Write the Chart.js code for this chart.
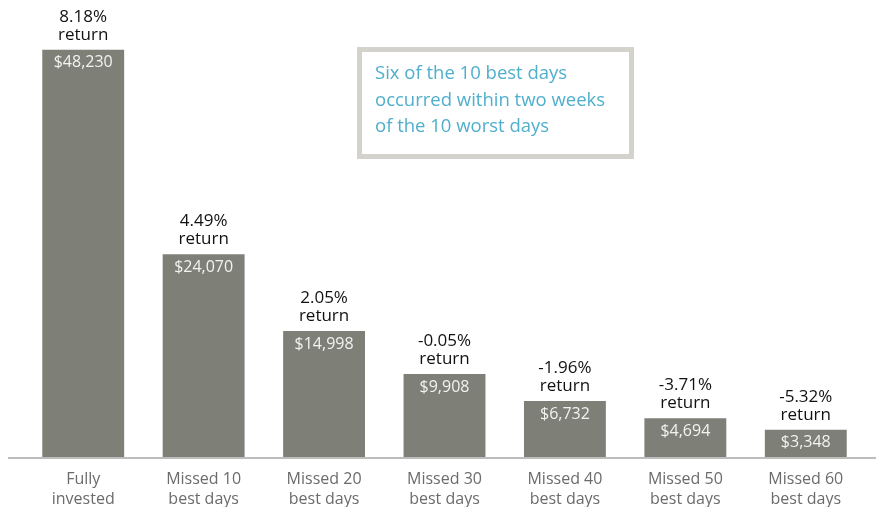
<!DOCTYPE html>
<html>
<head>
<meta charset="utf-8">
<script src="https://cdn.jsdelivr.net/npm/chart.js@4.4.1/dist/chart.umd.min.js"></script>
<style>
  html, body { margin: 0; padding: 0; background: #fff; }
  #wrap { width: 876px; height: 507px; position: relative; }
</style>
</head>
<body>
<div id="wrap"><canvas id="chart"></canvas></div>
<script>
const categories = [
    ['Fully', 'invested'],
    ['Missed 10', 'best days'],
    ['Missed 20', 'best days'],
    ['Missed 30', 'best days'],
    ['Missed 40', 'best days'],
    ['Missed 50', 'best days'],
    ['Missed 60', 'best days']
];
const endingValues = [48230, 24070, 14998, 9908, 6732, 4694, 3348];
const valueLabels = ['$48,230', '$24,070', '$14,998', '$9,908', '$6,732', '$4,694', '$3,348'];
const returnLabels = ['8.18%', '4.49%', '2.05%', '-0.05%', '-1.96%', '-3.71%', '-5.32%'];
const noteLines = ['Six of the 10 best days', 'occurred within two weeks', 'of the 10 worst days'];

const fontFamily = '"Open Sans", "Noto Sans", sans-serif';

// labels on and above the bars, base line, note box
const overlayPlugin = {
    id: 'overlay',
    afterDraw(chart) {
        const ctx = chart.ctx;
        const meta = chart.getDatasetMeta(0);
        const yScale = chart.scales.y;
        const baseY = yScale.getPixelForValue(0);

        ctx.save();
        ctx.strokeStyle = '#bdbdbd';
        ctx.lineWidth = 2;
        ctx.beginPath();
        ctx.moveTo(8, baseY);
        ctx.lineTo(chart.width, baseY);
        ctx.stroke();

        ctx.textAlign = 'center';
        ctx.textBaseline = 'middle';
        meta.data.forEach(function (bar, i) {
            ctx.font = '16px ' + fontFamily;
            ctx.fillStyle = '#f2f2ee';
            ctx.fillText(valueLabels[i], bar.x, bar.y + 13);

            ctx.font = '17px ' + fontFamily;
            ctx.fillStyle = '#111';
            ctx.fillText(returnLabels[i], bar.x, bar.y - 33);
            ctx.fillText('return', bar.x, bar.y - 15);
        });

        // note box
        ctx.strokeStyle = '#d3d2cd';
        ctx.lineWidth = 5;
        ctx.strokeRect(359.5, 49.5, 272, 107);
        ctx.font = '18.5px ' + fontFamily;
        ctx.fillStyle = '#50afcd';
        ctx.textAlign = 'left';
        noteLines.forEach(function (line, i) {
            ctx.fillText(line, 375, 74 + i * 26.5);
        });
        ctx.restore();
    }
};

new Chart(document.getElementById('chart').getContext('2d'), {
    type: 'bar',
    data: {
        labels: categories,
        datasets: [{
            data: endingValues,
            backgroundColor: '#7e8078',
            barPercentage: 0.68,
            categoryPercentage: 1.0
        }]
    },
    options: {
        responsive: true,
        maintainAspectRatio: false,
        animation: false,
        layout: { padding: { left: 23, right: 10, top: 0, bottom: -13 } },
        plugins: {
            legend: { display: false },
            tooltip: { enabled: false }
        },
        scales: {
            x: {
                grid: { display: false, drawTicks: false },
                border: { display: false },
                ticks: {
                    color: '#6b6b6b',
                    padding: 11,
                    font: { family: fontFamily, size: 16, lineHeight: 1.25 }
                }
            },
            y: {
                display: false,
                min: 0,
                max: 54100
            }
        }
    },
    plugins: [overlayPlugin]
});
</script>
</body>
</html>
